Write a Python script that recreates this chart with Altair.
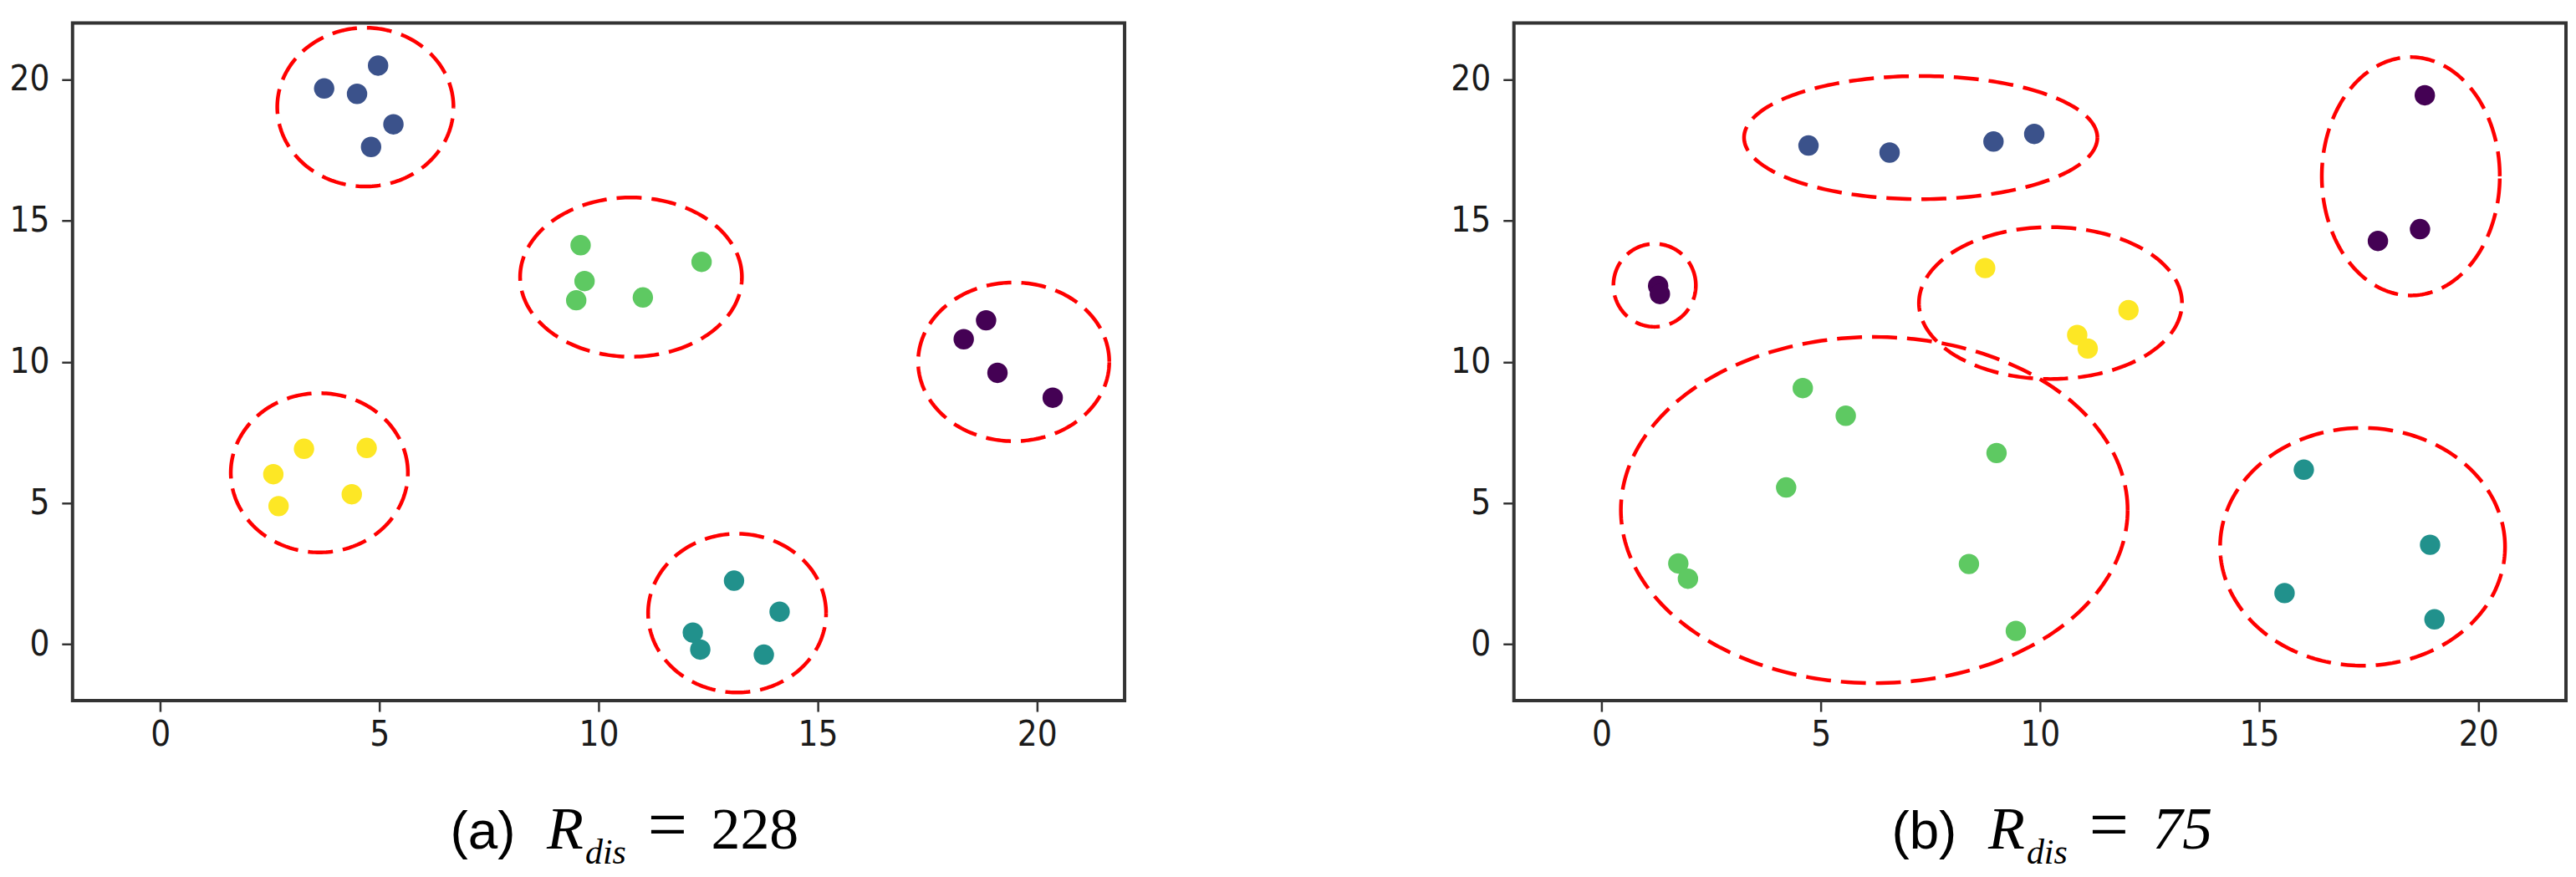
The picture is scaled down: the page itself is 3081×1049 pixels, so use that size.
import altair as alt
import pandas as pd
import numpy as np

# ---------------- data ----------------
VIRIDIS = ["#440154", "#3b528b", "#21918c", "#5ec962", "#fde725"]

# panel (a) points ; cluster 0 purple,1 blue,2 teal,3 green,4 yellow
a_x = [3.74, 4.49, 4.97, 5.32, 4.81,
       9.59, 9.68, 9.49, 11.01, 12.35,
       18.84, 18.33, 19.10, 20.36,
       3.28, 4.71, 2.58, 2.70, 4.37,
       13.09, 14.13, 12.15, 12.32, 13.77]
a_y = [19.68, 19.49, 20.49, 18.41, 17.61,
       14.13, 12.86, 12.18, 12.28, 13.54,
       11.47, 10.80, 9.61, 8.73,
       6.92, 6.95, 6.02, 4.89, 5.31,
       2.25, 1.15, 0.41, -0.19, -0.37]
a_c = [1, 1, 1, 1, 1,
       3, 3, 3, 3, 3,
       0, 0, 0, 0,
       4, 4, 4, 4, 4,
       2, 2, 2, 2, 2]

# panel (a) ellipses: centre, radii (data units)
a_ecx = [4.68, 10.74, 19.47, 3.63, 13.16]
a_ecy = [19.02, 13.00, 10.00, 6.07, 1.10]
a_erx = [2.01, 2.53, 2.18, 2.02, 2.03]
a_ery = [2.81, 2.82, 2.81, 2.82, 2.81]

# panel (b) points
b_x = [4.72, 6.57, 8.94, 9.87,
       18.78, 18.67, 17.71, 1.29, 1.33,
       8.75, 12.02, 10.85, 11.09,
       4.59, 5.57, 9.01, 4.21, 1.75, 1.97, 8.38, 9.45,
       16.02, 18.90, 15.58, 19.00]
b_y = [17.66, 17.41, 17.80, 18.07,
       19.44, 14.70, 14.28, 12.69, 12.40,
       13.32, 11.83, 10.95, 10.47,
       9.07, 8.09, 6.77, 5.55, 2.86, 2.32, 2.84, 0.47,
       6.18, 3.52, 1.81, 0.88]
b_c = [1, 1, 1, 1,
       0, 0, 0, 0, 0,
       4, 4, 4, 4,
       3, 3, 3, 3, 3, 3, 3, 3,
       2, 2, 2, 2]

# panel (b) ellipses
b_ecx = [1.21, 7.28, 18.46, 10.24, 6.22, 17.36]
b_ecy = [12.71, 17.94, 16.57, 12.08, 4.75, 3.45]
b_erx = [0.94, 4.03, 2.03, 3.00, 5.78, 3.25]
b_ery = [1.47, 2.18, 4.22, 2.69, 6.13, 4.21]

cap_a = ["(a)", "R", "dis", "=", "228"]
cap_b = ["(b)", "R", "dis", "=", "75"]

TICKS = [0, 5, 10, 15, 20]


def ellipse_table(cx, cy, rx, ry):
    t = np.linspace(0, 2 * np.pi, 241)
    frames = []
    for i in range(len(cx)):
        frames.append(pd.DataFrame({
            "x": cx[i] + rx[i] * np.cos(t),
            "y": cy[i] + ry[i] * np.sin(t),
            "e": i,
            "k": np.arange(len(t)),
        }))
    return pd.concat(frames, ignore_index=True)


LABEL_FONT = "Liberation Sans Narrow, DejaVu Sans Condensed, Liberation Sans, sans-serif"
SERIF = "Times New Roman, Liberation Serif, Times, serif"
SANS = "Arial, Liberation Sans, sans-serif"

xscale = alt.Scale(domain=[-2, 22], nice=False, zero=False)
yscale = alt.Scale(domain=[-2, 22], nice=False, zero=False)

axis_x = alt.Axis(values=TICKS, tickSize=13, tickWidth=2.5, tickColor="#333333",
                  labelFont=LABEL_FONT, labelFontSize=42, labelColor="#1a1a1a",
                  labelPadding=8, domain=False, grid=False, title=None)
axis_y = alt.Axis(values=TICKS, tickSize=13, tickWidth=2.5, tickColor="#333333",
                  labelFont=LABEL_FONT, labelFontSize=42, labelColor="#1a1a1a",
                  labelPadding=15, domain=False, grid=False, title=None)

# caption styling: (font, size, style, x offset, y offset) relative to plot area
CAP_STYLE = [
    (SANS, 64, "normal", 453, 990),
    (SERIF, 72, "italic", 569, 990),
    (SERIF, 42, "italic", 615, 1008),
    (SERIF, 84, "normal", 690, 990),
    (SERIF, 70, "normal", 766, 990),
]


def panel(px, py, pc, ecx, ecy, erx, ery, caption, last_italic):
    pts = pd.DataFrame({"x": px, "y": py, "c": pc})
    ell = ellipse_table(ecx, ecy, erx, ery)
    enc_x = alt.X("x:Q", scale=xscale, axis=axis_x)
    enc_y = alt.Y("y:Q", scale=yscale, axis=axis_y)
    points = alt.Chart(pts).mark_circle(size=600, opacity=1).encode(
        x=enc_x, y=enc_y,
        color=alt.Color("c:N", scale=alt.Scale(domain=[0, 1, 2, 3, 4], range=VIRIDIS), legend=None),
    )
    rings = alt.Chart(ell).mark_line(color="#ff0000", strokeWidth=4.5, strokeDash=[30, 12]).encode(
        x=alt.X("x:Q", scale=xscale, axis=axis_x),
        y=alt.Y("y:Q", scale=yscale, axis=axis_y),
        detail="e:N", order="k:Q",
    )
    texts = []
    for i, (txt, st) in enumerate(zip(caption, CAP_STYLE)):
        font, size, style, xo, yo = st
        if i == len(caption) - 1 and last_italic:
            style = "italic"
            size = 72
        texts.append(
            alt.Chart(alt.Data(values=[{}])).mark_text(
                text=txt, font=font, fontSize=size, fontStyle=style,
                align="left", baseline="alphabetic", color="black",
            ).encode(x=alt.value(xo), y=alt.value(yo))
        )
    return alt.layer(points, rings, *texts).properties(width=1262, height=813)


left = panel(a_x, a_y, a_c, a_ecx, a_ecy, a_erx, a_ery, cap_a, False)
right = panel(b_x, b_y, b_c, b_ecx, b_ecy, b_erx, b_ery, cap_b, True)

chart = alt.hconcat(left, right, spacing=386).properties(
    padding={"left": 0, "top": 12, "right": 2, "bottom": 0},
    background="white",
).configure_view(stroke="#333333", strokeWidth=4)

chart.save("out.html", embed_options={"renderer": "svg", "actions": False})
